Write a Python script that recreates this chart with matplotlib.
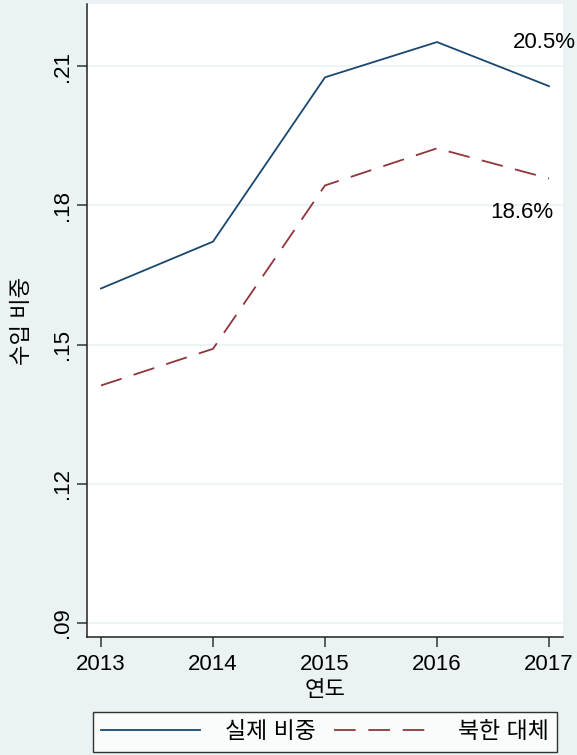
import matplotlib
matplotlib.use("Agg")
import matplotlib.pyplot as plt

plt.rcParams['font.family'] = ['Liberation Sans', 'Noto Sans CJK KR', 'DejaVu Sans']

years = [2013, 2014, 2015, 2016, 2017]
actual = [0.1621, 0.1722, 0.2076, 0.2152, 0.2057]
substitute = [0.1412, 0.1491, 0.1843, 0.1923, 0.1858]
yticks = [0.09, 0.12, 0.15, 0.18, 0.21]
ytick_labels = ['.09', '.12', '.15', '.18', '.21']
series_names = ['실제 비중', '북한 대체']
label_actual = '20.5%'
label_sub = '18.6%'

bg = '#EAF2F3'
navy = '#1a476f'
maroon = '#90353b'

fig = plt.figure(figsize=(5.77, 7.55), dpi=100, facecolor=bg)
ax = fig.add_axes([87/577, 1-637/755, (563-87)/577, (637-4)/755])
ax.set_facecolor('white')

ax.plot(years, actual, color=navy, lw=1.3, label=series_names[0])
ax.plot(years, substitute, color=maroon, lw=1.3, dashes=(12, 7), label=series_names[1])

ax.set_xlim(2012.875, 2017.125)
ax.set_ylim(0.087, 0.2234)
ax.set_yticks(yticks)
ax.set_yticklabels(ytick_labels, rotation=90, va='center')
ax.set_xticks(years)
ax.set_xticklabels([str(y) for y in years])
ax.grid(axis='y', color=bg, lw=1.2)
ax.set_axisbelow(True)
ax.tick_params(axis='both', labelsize=16, length=7, width=1.1, color='#333333', pad=5)
ax.tick_params(axis='y', pad=3)
for s in ['top', 'right']:
    ax.spines[s].set_visible(False)
for s in ['left', 'bottom']:
    ax.spines[s].set_linewidth(1.1)
    ax.spines[s].set_color('#222222')

ax.set_ylabel('수입 비중', fontsize=16, labelpad=14)
ax.set_xlabel('연도', fontsize=16, labelpad=4)

ax.text(2016.96, 0.2152, label_actual, fontsize=16, ha='center', va='center', clip_on=False)
ax.text(2016.76, 0.1785, label_sub, fontsize=16, ha='center', va='center', clip_on=False)

leg = fig.legend(loc='center', bbox_to_anchor=(325/577, 1-732/755), ncol=2,
                 fontsize=16.5, frameon=True, fancybox=False, edgecolor='black',
                 facecolor='white', handlelength=4.3, columnspacing=0.8,
                 handletextpad=1.1, borderpad=0.35, borderaxespad=0)
leg.get_frame().set_linewidth(1.0)

fig.savefig('out.png', dpi=100, facecolor=bg)
